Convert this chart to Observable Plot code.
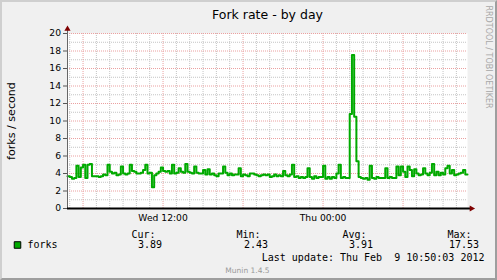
<!DOCTYPE html>
<html><head><meta charset="utf-8">
<script src="https://cdn.jsdelivr.net/npm/d3@7"></script>
<script src="https://cdn.jsdelivr.net/npm/@observablehq/plot@0.6"></script>
<style>
html,body{margin:0;padding:0;background:#f0f0f0;}
#wrap{position:relative;width:497px;height:280px;overflow:hidden;}
#wrap svg{display:block;}
#wrap svg text{white-space:pre;}
#shade{position:absolute;left:0;top:0;width:497px;height:280px;box-sizing:border-box;border-top:2px solid #cfcfcf;border-left:2px solid #cfcfcf;border-right:2px solid #9e9e9e;border-bottom:2px solid #9e9e9e;pointer-events:none;}
</style></head><body><div id="wrap"><div id="shade"></div></div>
<script>
const title = "Fork rate - by day";
const yLabel = "forks / second";
const watermarkSide = "RRDTOOL / TOBI OETIKER";
const watermarkBottom = "Munin 1.4.5";
const seriesName = "forks";
const yTicks = [0, 2, 4, 6, 8, 10, 12, 14, 16, 18, 20];
const xTickDates = [Date.UTC(2012, 1, 8, 12, 0), Date.UTC(2012, 1, 9, 0, 0)];
const xTickLabels = ["Wed 12:00", "Thu 00:00"];
const statLabels = ["Cur:", "Min:", "Avg:", "Max:"];
const statValues = ["3.89", "2.43", "3.91", "17.53"];
const lastUpdate = "Last update: Thu Feb  9 10:50:03 2012";
const startTime = Date.UTC(2012, 1, 8, 4, 50);
const endTime = Date.UTC(2012, 1, 9, 10, 50);
const stepMinutes = 10;
const forks = [
  3.7, 3.6, 3.4, 3.5, 4.9, 3.6, 4.7, 5.0, 3.5, 5.0,
  5.1, 3.7, 3.7, 3.7, 3.6, 3.7, 3.9, 3.8, 5.0, 4.2,
  4.0, 4.1, 3.8, 3.9, 4.8, 4.0, 3.9, 4.0, 5.0, 4.3,
  4.2, 4.0, 4.0, 4.1, 4.4, 5.0, 4.0, 4.1, 2.43, 3.8,
  4.0, 4.2, 4.7, 4.3, 4.2, 4.3, 4.0, 5.0, 4.0, 4.1,
  4.6, 4.2, 4.1, 5.1, 4.2, 4.1, 4.0, 4.8, 4.1, 4.0,
  4.0, 4.4, 3.9, 4.5, 3.9, 4.0, 3.8, 3.7, 4.0, 4.0,
  4.8, 4.1, 3.8, 4.0, 3.8, 3.9, 3.9, 4.6, 3.7, 3.9,
  3.8, 3.7, 4.0, 4.0, 3.9, 3.8, 3.7, 3.8, 3.9, 3.8,
  3.9, 3.6, 3.7, 3.9, 3.7, 3.8, 3.7, 4.3, 3.8, 3.7,
  3.9, 5.0, 3.6, 3.7, 3.5, 3.6, 3.5, 3.6, 4.6, 3.6,
  3.4, 3.7, 3.5, 3.6, 3.6, 4.9, 3.4, 3.6, 3.4, 3.6,
  3.5, 4.0, 5.0, 3.5, 3.6, 3.5, 3.5, 10.8, 17.53, 10.5,
  5.4, 3.6, 3.5, 3.4, 3.5, 3.3, 4.9, 3.5, 3.4, 3.6,
  3.5, 3.5, 3.5, 4.6, 3.5, 3.6, 3.5, 3.5, 4.8, 3.8,
  4.8, 4.2, 3.6, 4.8, 4.4, 3.7, 4.5, 4.0, 3.8, 3.9,
  4.6, 4.0, 3.8, 4.1, 5.1, 3.8, 4.2, 3.8, 4.1, 3.9,
  4.6, 4.9, 4.0, 4.4, 3.8, 3.9, 4.0, 4.1, 4.4, 3.89
];

const green = "#00aa00";
const minorGrid = "#c4c4c4";
const majorGrid = "#eba0a0";
const frameL = 67, frameT = 33, frameB = 208;

const data = forks.map((v, i) => ({t: new Date(startTime + i * stepMinutes * 60000), v}));
data.push({t: new Date(endTime), v: forks[forks.length - 1]});

const hours = d3.utcHour.range(new Date(startTime), new Date(endTime + 1));
const minorX = hours.filter(d => d.getUTCHours() % 6 !== 0);
const majorX = hours.filter(d => d.getUTCHours() % 6 === 0);
const minorY = d3.range(1, 20, 2);
const majorY = yTicks.filter(v => v > 0);

const headerX = [131, 236, 342, 447];
const valueEndX = [161.5, 267.5, 372.5, 478.5];
const mono = "DejaVu Sans Mono";

const chart = Plot.plot({
  width: 497,
  height: 280,
  marginLeft: 67,
  marginRight: 30,
  marginTop: 33,
  marginBottom: 72,
  style: {background: "transparent", fontFamily: "DejaVu Sans", fontSize: "9.2px", color: "black", overflow: "visible"},
  x: {type: "utc", domain: [new Date(startTime), new Date(endTime)]},
  y: {domain: [0, 20]},
  marks: [
    Plot.frame({fill: "white", stroke: null}),
    Plot.ruleY(minorY, {stroke: minorGrid, strokeDasharray: "1,1"}),
    Plot.ruleX(minorX, {stroke: minorGrid, strokeDasharray: "1,1"}),
    Plot.ruleY(majorY, {stroke: majorGrid, strokeDasharray: "1,1"}),
    Plot.ruleX(majorX, {stroke: majorGrid, strokeDasharray: "1,1"}),
    Plot.line(data, {x: "t", y: "v", curve: "step-after", stroke: green, strokeWidth: 2}),
    Plot.ruleX([new Date(startTime)], {insetTop: -5, stroke: "#666"}),
    Plot.ruleY([0], {stroke: "black", strokeWidth: 2, insetRight: -3}),
    Plot.dot([0], {frameAnchor: "top-left", dy: -4.5, symbol: "triangle", r: 2.3, fill: "#7f0000", stroke: null}),
    Plot.dot([0], {frameAnchor: "bottom-right", dx: 4, rotate: 90, symbol: "triangle", r: 2.3, fill: "#7f0000", stroke: null}),
    Plot.axisY(yTicks, {tickSize: 4, tickPadding: 2.5, stroke: "#555", fill: "black", fontSize: 9.2, label: null, tickFormat: d => String(d)}),
    Plot.axisX(xTickDates.map(d => new Date(d)), {tickSize: 0, tickPadding: 5.5, fill: "black", fontSize: 9.2, label: null,
      tickFormat: d => xTickLabels[xTickDates.indexOf(+d)]}),
    Plot.text([title], {text: d => d, frameAnchor: "top", dy: 18 - frameT, lineAnchor: "bottom", textAnchor: "middle", fontSize: 12.5, fill: "black"}),
    Plot.text([yLabel], {text: d => d, frameAnchor: "left", dx: 11 - frameL, rotate: -90, textAnchor: "middle", lineAnchor: "middle", fontSize: 11.1, fill: "black"}),
    Plot.text([watermarkSide], {text: d => d, frameAnchor: "top-right", dx: 21.5, dy: 5 - frameT, rotate: 90, textAnchor: "start", lineAnchor: "middle", fontSize: 8, fill: "#a8a8a8"}),
    Plot.dot([seriesName], {frameAnchor: "bottom-left", dx: 17 - frameL, dy: 244.5 - frameB, symbol: "square", r: 3.7, fill: green, stroke: "black", strokeWidth: 1}),
    Plot.text([seriesName], {text: d => d, frameAnchor: "bottom-left", dx: 27 - frameL, dy: 247.5 - frameB, textAnchor: "start", lineAnchor: "bottom", fontFamily: mono, fontSize: 10, fill: "black"}),
    ...statLabels.map((s, k) => Plot.text([s], {text: d => d, frameAnchor: "bottom-left", dx: headerX[k] - frameL, dy: 237 - frameB, textAnchor: "start", lineAnchor: "bottom", fontFamily: mono, fontSize: 10, fill: "black"})),
    ...statValues.map((s, k) => Plot.text([s], {text: d => d, frameAnchor: "bottom-left", dx: valueEndX[k] - frameL, dy: 247.5 - frameB, textAnchor: "end", lineAnchor: "bottom", fontFamily: mono, fontSize: 10, fill: "black"})),
    Plot.text([lastUpdate], {text: d => d, frameAnchor: "bottom-left", dx: 484 - frameL, dy: 260 - frameB, textAnchor: "end", lineAnchor: "bottom", fontFamily: mono, fontSize: 10, fill: "black"}),
    Plot.text([watermarkBottom], {text: d => d, frameAnchor: "bottom-left", dx: 247 - frameL, dy: 272.5 - frameB, textAnchor: "middle", lineAnchor: "bottom", fontSize: 7.5, fill: "#9a9a9a"})
  ]
});
document.getElementById("wrap").insertBefore(chart, document.getElementById("shade"));
</script>
</body></html>
